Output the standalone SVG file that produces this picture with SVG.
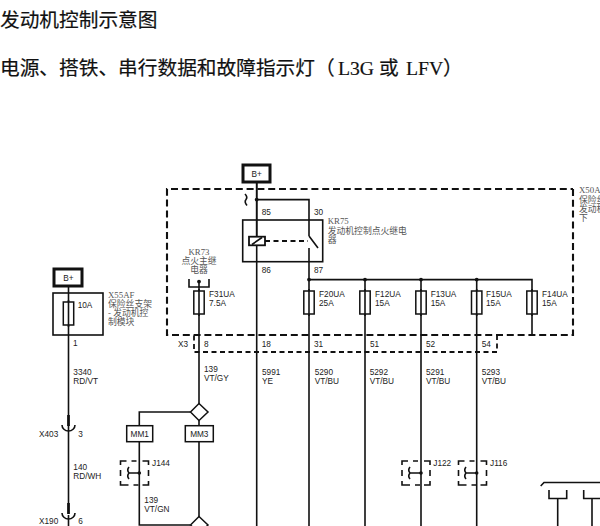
<svg xmlns="http://www.w3.org/2000/svg" width="600" height="526" viewBox="0 0 600 526">
<style>
text{font-family:"Liberation Sans",Arial,sans-serif;font-size:8.25px;fill:#222}
.t{font-family:"Liberation Serif","Noto Sans CJK SC",serif;font-size:19.7px;fill:#111;stroke:#111;stroke-width:.2}
.c{font-family:"Liberation Serif","Noto Sans CJK SC",serif;font-size:8.8px;fill:#555}
.m{text-anchor:middle}
.w{fill:none;stroke:#111;stroke-width:1.6}
.b{fill:#fff;stroke:#111;stroke-width:1.5}
.h{fill:#fff;stroke:#111;stroke-width:3}
.d{fill:none;stroke:#111;stroke-width:2.1;stroke-dasharray:7 3.8}
.s{fill:none;stroke:#111;stroke-width:1.8;stroke-dasharray:5 3.5}
.x{fill:none;stroke:#111;stroke-width:1.6}
.n{fill:#111}
</style>
<defs>
<g id="fuse"><rect class="b" x="-5.2" y="0" width="10.4" height="23"/><path class="w" d="M0-2V25"/></g>
<g id="cup"><path class="w" d="M-6.5 0A6.5 6 0 0 0 6.5 0"/><path fill="none" stroke="#111" stroke-width="2.8" d="M0-10V1"/></g>
<path id="splice" class="x" d="M-14-8V-12H-8M-3-12H2M8-12H14V-8M-14-3V3M14-3V3M-14 8V12H-6M-1 12H4M8 12H14V8"/>
</defs>
<g id="titles">
<text class="t" x="0" y="27">发动机控制示意图</text>
<text class="t" x="0" y="75">电源、搭铁、串行数据和故障指示灯（<tspan x="338">L3G</tspan><tspan x="379">或</tspan><tspan x="406">LFV</tspan><tspan x="443">）</tspan></text>
</g>
<g id="connectors">
<path class="w" d="M256.7 183V526M256.7 199.6H309V236M309 236L318 248M309 248V352M309 279.6H532V335M199 281.6V404M68.5 287V415M68.5 425V503M68.5 515V526"/>
<path class="w" d="M365 279.6V526M421 279.6V526M476.7 279.6V526M309 352V526M199 420V517M139.3 441V525H190M190.7 412H139.3V426"/>
<path class="w" d="M245 194Q248 197 246 199.6Q244 202 247 205.6"/>
<path class="w" d="M540.7 486L544 482.5H600M549 490V498.5H566.7V490M557.7 498.5V526M583.7 490V498.5H600M592 498.5V526"/>
<path class="s" d="M265 241H308"/>
</g>
<g id="frames">
<path class="d" d="M573 189V335H167V189H573"/>
<path class="s" d="M497 335V352H194V335"/>
</g>
<g id="bplus-top"><rect class="h" x="243" y="165" width="27" height="17"/><text class="m" x="256.7" y="176.7">B+</text></g>
<g id="bplus-left"><rect class="h" x="54" y="269" width="28" height="17"/><text class="m" x="68.5" y="280.7">B+</text></g>
<g id="x55af">
<rect class="w" x="53" y="293" width="50" height="42"/>
<use href="#fuse" x="68.5" y="302"/>
<text x="77.7" y="307.7">10A</text>
<text class="c" x="108" y="298">X55AF</text>
<text class="c" x="108" y="307">保险丝支架</text>
<text class="c" x="108" y="316">- 发动机控</text>
<text class="c" x="108" y="325">制模块</text>
<text x="73" y="345.7">1</text>
<text x="73.3" y="375">3340</text><text x="73.3" y="384">RD/VT</text>
</g>
<g id="kr75">
<rect class="w" x="242.7" y="220" width="80" height="41.7"/>
<rect x="249" y="236.7" width="16" height="8.6" fill="#fff" stroke="#111" stroke-width="1.8"/>
<path class="w" d="M252 244.5L262 237.5M256.7 183V236"/>
<circle class="n" cx="256.7" cy="199.6" r="1.9"/>
<text x="261.7" y="215">85</text><text x="314" y="215">30</text>
<text x="261.7" y="273">86</text><text x="314" y="273">87</text>
<text class="c" x="327.7" y="224">KR75</text>
<text class="c" x="327.7" y="233.7">发动机控制点火继电</text>
<text class="c" x="327.7" y="243">器</text>
</g>
<g id="kr73">
<path class="w" d="M189 279V287H209V279"/>
<circle class="n" cx="199" cy="281.6" r="1.9"/>
<text class="c m" x="199" y="254.5">KR73</text>
<text class="c m" x="199" y="264">点火主继</text>
<text class="c m" x="199" y="273">电器</text>
</g>
<g id="fuses">
<use href="#fuse" x="199" y="291"/><text x="209" y="297">F31UA</text><text x="209" y="305.7">7.5A</text>
<use href="#fuse" x="309" y="291"/><text x="319" y="297">F20UA</text><text x="319" y="305.7">25A</text>
<use href="#fuse" x="365" y="291"/><text x="375" y="297">F12UA</text><text x="375" y="305.7">15A</text>
<use href="#fuse" x="421" y="291"/><text x="430.7" y="297">F13UA</text><text x="430.7" y="305.7">15A</text>
<use href="#fuse" x="476.7" y="291"/><text x="486" y="297">F15UA</text><text x="486" y="305.7">15A</text>
<use href="#fuse" x="532" y="291"/><text x="542" y="297">F14UA</text><text x="542" y="305.7">15A</text>
<circle class="n" cx="309" cy="279.6" r="1.9"/><circle class="n" cx="365" cy="279.6" r="1.9"/><circle class="n" cx="421" cy="279.6" r="1.9"/><circle class="n" cx="476.7" cy="279.6" r="1.9"/>
</g>
<g id="x50a">
<text class="c" x="579" y="193">X50A</text>
<text class="c" x="579" y="202.7">保险丝</text>
<text class="c" x="579" y="212">发动机</text>
<text class="c" x="579" y="221">下</text>
</g>
<g id="x3">
<text x="178" y="346.7">X3</text><text x="204" y="346.7">8</text><text x="261.7" y="346.7">18</text><text x="314" y="346.7">31</text><text x="370" y="346.7">51</text><text x="426" y="346.7">52</text><text x="481.7" y="346.7">54</text>
</g>
<g id="wire-labels">
<text x="204" y="372">139</text><text x="204" y="381">VT/GY</text>
<text x="262" y="375">5991</text><text x="262" y="384">YE</text>
<text x="314.7" y="375">5290</text><text x="314.7" y="384">VT/BU</text>
<text x="369.7" y="375">5292</text><text x="369.7" y="384">VT/BU</text>
<text x="426" y="375">5291</text><text x="426" y="384">VT/BU</text>
<text x="481.7" y="375">5293</text><text x="481.7" y="384">VT/BU</text>
<text x="73.3" y="470">140</text><text x="73.3" y="479">RD/WH</text>
<text x="144.3" y="502.7">139</text><text x="144.3" y="511.7">VT/GN</text>
</g>
<g id="x403"><use href="#cup" x="68.5" y="425"/><text x="39" y="437.3">X403</text><text x="78.3" y="437.3">3</text></g>
<g id="x190"><use href="#cup" x="68.5" y="513"/><text x="39" y="524.3">X190</text><text x="78.3" y="524.3">6</text></g>
<g id="diamond-top"><path class="b" d="M199 403.5L208 412L199 420.5L190.5 412Z"/></g>
<g id="diamond-bottom"><path class="b" d="M199 516.5L208 525L199 533.5L190.5 525Z"/></g>
<g id="mm1"><rect class="b" x="126.7" y="425.7" width="26" height="16"/><text class="m" x="139.7" y="436.7">MM1</text></g>
<g id="mm3"><rect class="b" x="185.3" y="425.7" width="28" height="16"/><text class="m" x="199.3" y="436.7">MM3</text></g>
<g id="j144"><use href="#splice" x="134.5" y="473"/><path class="w" d="M139.3 473H129Q126.5 470 129 467"/><path class="w" d="M129 473Q126.5 476 129 479"/><circle class="n" cx="139.3" cy="473" r="1.8"/><text x="152" y="466">J144</text></g>
<g id="j122"><use href="#splice" x="416" y="473"/><path class="w" d="M421 473H410Q407.5 470 410 467"/><path class="w" d="M410 473Q407.5 476 410 479"/><circle class="n" cx="421" cy="473" r="1.8"/><text x="433.3" y="466">J122</text></g>
<g id="j116"><use href="#splice" x="472.5" y="473"/><path class="w" d="M476.7 473H466Q463.5 470 466 467"/><path class="w" d="M466 473Q463.5 476 466 479"/><circle class="n" cx="476.7" cy="473" r="1.8"/><text x="490" y="466">J116</text></g>
</svg>
